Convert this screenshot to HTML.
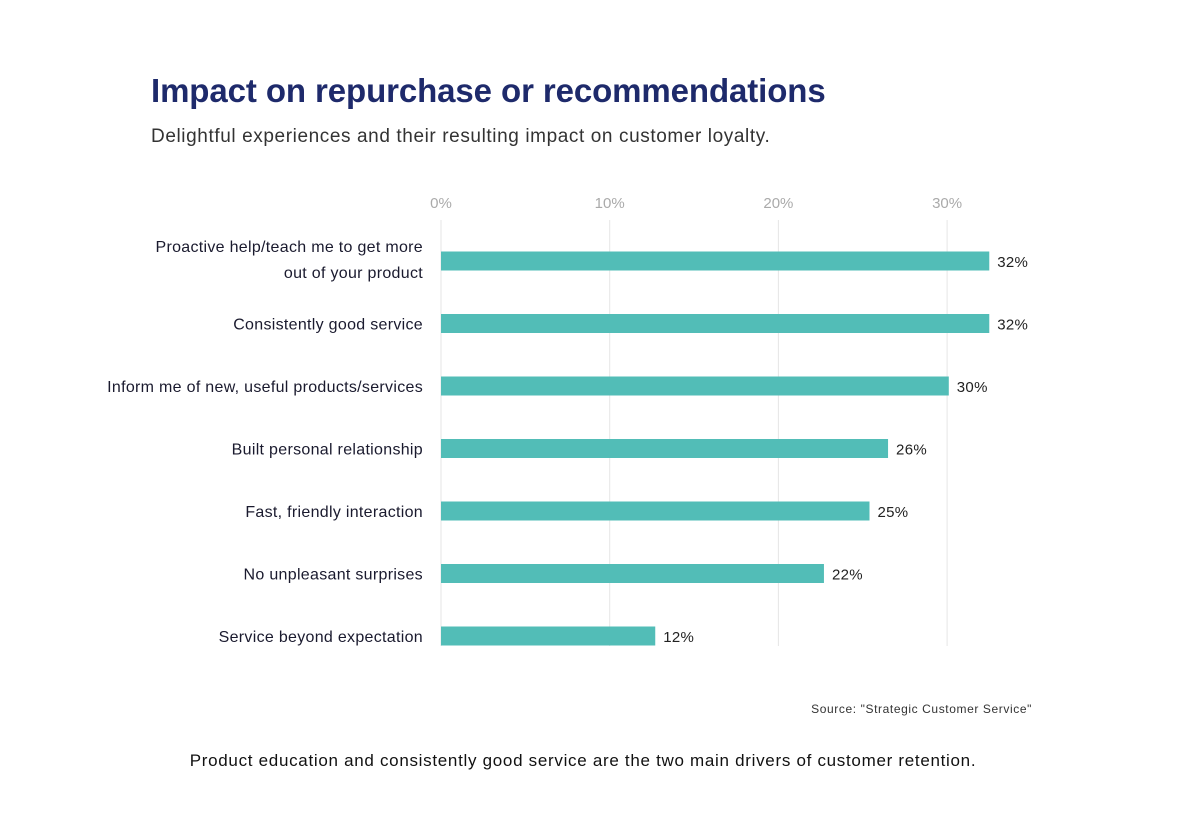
<!DOCTYPE html>
<html><head><meta charset="utf-8"><style>
body{margin:0;background:#fff;width:1200px;height:820px;overflow:hidden;font-family:"Liberation Sans",sans-serif;}
svg text{font-family:"Liberation Sans",sans-serif;}
</style></head><body>
<svg id="chart" width="1200" height="820">
<text x="151" y="102" font-size="33" font-weight="bold" fill="#1e2a6b" letter-spacing="-0.1">Impact on repurchase or recommendations</text>
<text x="151" y="142" font-size="19" fill="#333" letter-spacing="0.6">Delightful experiences and their resulting impact on customer loyalty.</text>
<g id="grid"></g><g id="bars"></g>
<text x="1032" y="713" font-size="12" fill="#333" text-anchor="end" letter-spacing="0.6">Source: "Strategic Customer Service"</text>
<text x="583" y="766" font-size="17" fill="#111" text-anchor="middle" letter-spacing="0.7">Product education and consistently good service are the two main drivers of customer retention.</text>
</svg>
<script>
const categories=[["Proactive help/teach me to get more","out of your product"],["Consistently good service"],["Inform me of new, useful products/services"],["Built personal relationship"],["Fast, friendly interaction"],["No unpleasant surprises"],["Service beyond expectation"]];
const values=[32.5,32.5,30.1,26.5,25.4,22.7,12.7];
const valueLabels=["32%","32%","30%","26%","25%","22%","12%"];
const ticks=[0,10,20,30];
const tickLabels=["0%","10%","20%","30%"];
const NS="http://www.w3.org/2000/svg";
const x=v=>441+v*16.87;
const y=i=>261+i*62.5;
function mk(t,a,p,txt){const e=document.createElementNS(NS,t);for(const k in a)e.setAttribute(k,a[k]);if(txt!==undefined)e.textContent=txt;p.appendChild(e);return e;}
const g=document.getElementById('grid'),b=document.getElementById('bars');
ticks.forEach((t,i)=>{
const l=mk('line',{x1:x(t),x2:x(t),y1:220,y2:646,stroke:'#e6e6e6','stroke-width':1},g);


const tx=mk('text',{x:x(t),y:208,'font-size':15,fill:'#aaa','text-anchor':'middle'},g,tickLabels[i]);


});
values.forEach((v,i)=>{
const r=mk('rect',{x:x(0),y:y(i)-9.5,width:x(v)-x(0),height:19,fill:'#52bdb7'},b);


const vl=mk('text',{x:x(v)+8,y:y(i)+6,'font-size':15,fill:'#222','letter-spacing':0.3},b,valueLabels[i]);


const lines=categories[i];
lines.forEach((s,j)=>{
const yy=lines.length>1?y(i)-9+j*26:y(i)+6;
const c=mk('text',{x:423,y:yy,'font-size':16,fill:'#1a1a2e','text-anchor':'end','letter-spacing':0.3},b,s);


});
});
</script>
</body></html>
